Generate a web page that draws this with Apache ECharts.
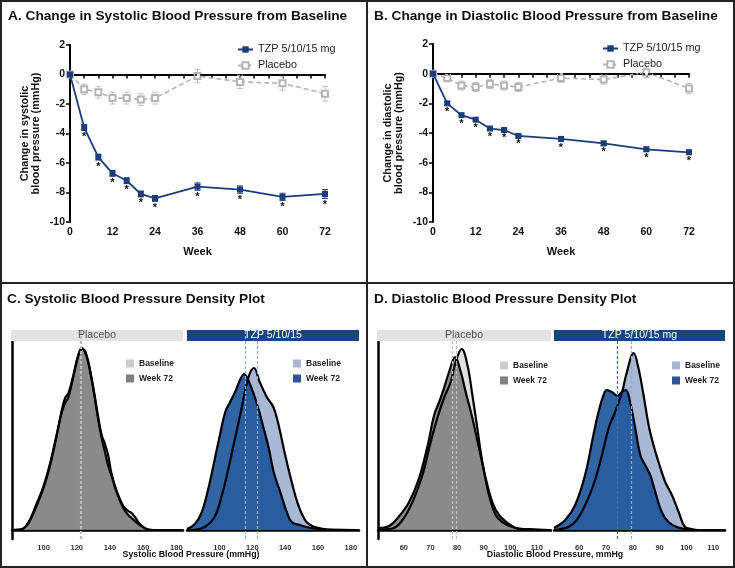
<!DOCTYPE html>
<html><head><meta charset="utf-8">
<script src="https://cdn.jsdelivr.net/npm/echarts@6/dist/echarts.min.js"></script>
<style>html,body{margin:0;padding:0;background:#fff}#c{width:735px;height:568px}</style>
</head><body><div id="c"></div>
<script>
const FONT = '"Liberation Sans", Arial, sans-serif';

// ---------- Line panels (A, B) ----------
const weeks = [0, 4, 8, 12, 16, 20, 24, 36, 48, 60, 72];
const weekTicks = [0, 12, 24, 36, 48, 60, 72];
const sbpTzp = [0, -3.6, -5.6, -6.7, -7.2, -8.1, -8.4, -7.6, -7.8, -8.3, -8.1];
const sbpTzpSe = [0, 0.2, 0.2, 0.2, 0.2, 0.2, 0.2, 0.25, 0.25, 0.25, 0.3];
const sbpPbo = [0, -1.0, -1.2, -1.6, -1.6, -1.7, -1.6, -0.1, -0.5, -0.6, -1.3];
const sbpPboSe = [0, 0.35, 0.4, 0.4, 0.4, 0.4, 0.4, 0.45, 0.45, 0.45, 0.5];
const dbpTzp = [0, -2.0, -2.8, -3.1, -3.7, -3.8, -4.2, -4.4, -4.7, -5.1, -5.3];
const dbpTzpSe = [0, 0.12, 0.12, 0.12, 0.13, 0.13, 0.13, 0.15, 0.15, 0.15, 0.15];
const dbpPbo = [0, -0.3, -0.8, -0.9, -0.7, -0.8, -0.9, -0.3, -0.4, 0.1, -1.0];
const dbpPboSe = [0, 0.25, 0.3, 0.3, 0.3, 0.3, 0.3, 0.3, 0.3, 0.35, 0.35];
const significant = [0, 1, 1, 1, 1, 1, 1, 1, 1, 1, 1];

// ---------- Density panels (C, D): [value, relative density] ----------
const sbpPboBase = [[81,0],[86,0.5],[89,3],[92,10],[96,25],[100,42],[104,65],[108,95],[111,120],[113,132],[115,137],[118,155],[121,175],[123.5,181],[125,179],[127,168],[130,142],[133,112],[135,95],[137,86],[139,74],[141,56],[144,39],[148,24],[151,19],[153,17],[155,13],[158,6],[162,1],[166,0],[184,0]];
const sbpPboW72 = [[81,0],[86,0.5],[89,3],[92,11],[96,27],[100,44],[104,67],[108,96],[111,118],[113,127],[115,133],[118,154],[121,175],[123,182],[125,178],[127,167],[130,141],[133,110],[135,92],[137,78],[139,64],[141,54],[144,38],[148,22],[151,15],[153,12],[155,9],[158,5],[162,1],[166,0],[184,0]];
const sbpTzpBase = [[80.2,0],[85,0.2],[91,3],[97,13],[101.5,35],[105.5,62],[109.5,92],[113.5,122],[117.5,152],[121,162],[124.5,148],[128.8,133],[132.8,123],[136,105],[140,75],[144,48],[148,25],[153,8],[158,3],[162,1.5],[166,0.5],[185,0]];
const sbpTzpW72 = [[80.2,1],[85,6],[89,17],[93,40],[97,70],[100,93],[103.5,118],[106.5,128],[109.5,138],[112.5,150],[115,156],[118.5,146],[122.7,127],[126.7,103],[130,82],[133,58],[137,38],[141,18],[144,8],[149,5],[156,2],[164,0.3],[185,0]];
const dbpPboBase = [[50.3,0.5],[55.75,1.5],[59.5,10],[63.25,28],[67,55],[70.1,88],[72.6,112],[75.1,132],[77.6,148],[79.5,168],[81.75,181],[83.9,165],[85.75,135],[87.6,102],[89.5,68],[92,35],[94.5,15],[97,8],[100.75,3],[105,1],[115.3,0]];
const dbpPboW72 = [[50.3,2],[54.5,4],[58,13],[62,28],[65.75,52],[69,85],[71.4,115],[73.3,128],[75.1,142],[77,158],[79.25,173],[81.4,158],[83.25,138],[85.75,112],[88.25,82],[90.75,52],[93.25,28],[95.75,15],[99,7],[102,2],[105,0.5],[107,1],[110,0.3],[115.3,0]];
const dbpTzpBase = [[50.6,0],[52.3,0.5],[56,3],[59.1,10],[62.2,25],[65.3,45],[68.5,75],[71,102],[73.4,118],[75.9,137],[77.8,158],[80.3,177],[82.1,162],[84,135],[85.9,105],[87.7,85],[89.6,68],[92.1,48],[94.6,35],[97.1,18],[99.5,3],[102,1],[104,0],[114.4,0]];
const dbpTzpW72 = [[50.6,2],[54.8,10],[58.5,25],[62.2,55],[65.3,95],[67.2,118],[69.1,135],[70.3,140],[72.2,138],[74.3,134],[75.9,138],[77.4,140],[79,128],[80.9,102],[82.8,75],[84.6,65],[86.5,55],[88.4,38],[90.8,18],[93.3,8],[96.4,3],[99.5,1],[102,0],[114.4,0]];
// means (dashed lines): [baseline, week 72]
const sbpPboMeans = [123.0, 122.2];
const sbpTzpMeans = [123.1, 115.6];
const dbpPboMeans = [79.8, 78.3];
const dbpTzpMeans = [79.4, 74.3];
const sbpTicks = [100, 120, 140, 160, 180];
const dbpTicks = [60, 70, 80, 90, 100, 110];

const NAVY = '#1d3c7a', PGRAY = '#b5b5b5';

function errRender(color) {
  return function (params, api) {
    const x = api.value(0), y = api.value(1), e = api.value(2), star = api.value(3);
    const t = api.coord([x, y + e]), b = api.coord([x, y - e]);
    const st = { stroke: color, lineWidth: 1 };
    const ch = [];
    if (e > 0) {
      ch.push({ type: 'line', shape: { x1: t[0], y1: t[1], x2: b[0], y2: b[1] }, style: st });
      ch.push({ type: 'line', shape: { x1: t[0] - 3, y1: t[1], x2: t[0] + 3, y2: t[1] }, style: st });
      ch.push({ type: 'line', shape: { x1: b[0] - 3, y1: b[1], x2: b[0] + 3, y2: b[1] }, style: st });
    }
    if (star) ch.push({ type: 'text', style: { text: '*', x: b[0], y: b[1] + 1, align: 'center', verticalAlign: 'top', font: 'bold 11px ' + FONT, fill: '#111' } });
    return { type: 'group', children: ch };
  };
}

const series = [];
const grids = [], xAxes = [], yAxes = [], legends = [];

function linePanel(idx, g, tzp, tzpSe, pbo, pboSe, yname, leg) {
  grids.push(g);
  xAxes.push({ gridIndex: idx, type: 'value', min: 0, max: 72, interval: 4,
    name: 'Week', nameLocation: 'middle', nameGap: 24,
    nameTextStyle: { fontFamily: FONT, fontWeight: 'bold', fontSize: 11, color: '#111' },
    axisLine: { lineStyle: { color: '#000', width: 2 } },
    axisTick: { length: 4, lineStyle: { color: '#000', width: 1.5 } },
    axisLabel: { margin: 5, fontFamily: FONT, fontWeight: 'bold', fontSize: 10.5, color: '#111',
      formatter: v => weekTicks.includes(v) ? String(v) : '' },
    splitLine: { show: false } });
  yAxes.push({ gridIndex: idx, type: 'value', min: -10, max: 2, interval: 2,
    name: yname, nameLocation: 'middle', nameGap: 28,
    nameTextStyle: { fontFamily: FONT, fontWeight: 'bold', fontSize: 10.8, color: '#111', lineHeight: 11.5 },
    axisLine: { show: true, lineStyle: { color: '#000', width: 2 } },
    axisTick: { show: true, length: 4, lineStyle: { color: '#000', width: 1.5 } },
    axisLabel: { margin: 5, fontFamily: FONT, fontWeight: 'bold', fontSize: 10.5, color: '#111' },
    splitLine: { show: false } });
  const nT = 'TZP 5/10/15 mg' + (idx ? ' ' : ''), nP = 'Placebo' + (idx ? ' ' : '');
  series.push({ type: 'custom', xAxisIndex: idx, yAxisIndex: idx, renderItem: errRender('#c0c0c0'),
    data: weeks.map((w, i) => [w, pbo[i], pboSe[i], 0]), z: 3, silent: true });
  series.push({ name: nP, type: 'line', xAxisIndex: idx, yAxisIndex: idx,
    data: weeks.map((w, i) => [w, pbo[i]]), symbol: 'emptyRect', symbolSize: 6, z: 4,
    itemStyle: { color: PGRAY, borderWidth: 1.3 }, lineStyle: { color: PGRAY, width: 1.6, type: [5, 3] },
    markLine: { silent: true, symbol: 'none', label: { show: false },
      lineStyle: { color: '#000', type: [2, 3], width: 1.5 }, data: [{ yAxis: 0 }] } });
  series.push({ type: 'custom', xAxisIndex: idx, yAxisIndex: idx, renderItem: errRender(NAVY),
    data: weeks.map((w, i) => [w, tzp[i], tzpSe[i], significant[i]]), z: 5, silent: true });
  series.push({ name: nT, type: 'line', xAxisIndex: idx, yAxisIndex: idx,
    data: weeks.map((w, i) => [w, tzp[i]]), symbol: 'rect', symbolSize: 6, z: 6,
    itemStyle: { color: NAVY }, lineStyle: { color: NAVY, width: 1.8 } });
  legends.push({ data: [nT, nP], orient: 'vertical', left: leg[0], top: leg[1], itemWidth: 15, itemHeight: 8, itemGap: 5,
    textStyle: { fontFamily: FONT, fontSize: 10.8, color: '#222' }, formatter: n => n.trim(), selectedMode: false });
}

function densityPanel(idx, g, range, ticks, base, w72, means, cBase, cBaseA, cW72, cW72A, meanColors, showY, legPos, key) {
  grids.push(g);
  xAxes.push({ gridIndex: idx, type: 'value', min: range[0], max: range[1],
    axisLine: { lineStyle: { color: '#000', width: 2.5 } },
    axisTick: { show: false },
    axisLabel: { customValues: ticks, margin: 5, fontFamily: FONT, fontWeight: 'bold', fontSize: 7.5, color: '#333' },
    splitLine: { show: false } });
  yAxes.push({ gridIndex: idx, type: 'value', min: -9, max: 200,
    axisLine: { show: showY, lineStyle: { color: '#000', width: 2.5 } },
    axisTick: { show: false }, axisLabel: { show: false }, splitLine: { show: false } });
  const nB = key + '|Baseline', nW = key + '|Week 72';
  series.push({ name: nB, type: 'line', xAxisIndex: idx, yAxisIndex: idx, data: base, smooth: 0.4,
    symbol: 'none', itemStyle: { color: cBase }, lineStyle: { color: '#000', width: 2.2 },
    areaStyle: { color: cBaseA[0], opacity: cBaseA[1] }, silent: true });
  series.push({ name: nW, type: 'line', xAxisIndex: idx, yAxisIndex: idx, data: w72, smooth: 0.4,
    symbol: 'none', itemStyle: { color: cW72 }, lineStyle: { color: '#000', width: 2.2 },
    areaStyle: { color: cW72A[0], opacity: cW72A[1] }, silent: true,
    markLine: { silent: true, symbol: 'none', label: { show: false },
      data: [
        { xAxis: means[0], lineStyle: { color: meanColors[0], type: [3, 2], width: 1.2 } },
        { xAxis: means[1], lineStyle: { color: meanColors[1], type: [3, 2], width: 1.2 } }
      ] } });
  legends.push({ data: [nB, nW], orient: 'vertical', left: legPos[0], top: legPos[1], icon: 'rect',
    itemWidth: 8, itemHeight: 8, itemGap: 6, selectedMode: false,
    itemStyle: { borderWidth: 0 },
    textStyle: { fontFamily: FONT, fontWeight: 'bold', fontSize: 8.5, color: '#222' },
    formatter: n => n.split('|')[1] });
}

linePanel(0, { left: 70, top: 45, width: 255, height: 177 }, sbpTzp, sbpTzpSe, sbpPbo, sbpPboSe,
  'Change in systolic\nblood pressure (mmHg)', [232, 39]);
linePanel(1, { left: 433, top: 44, width: 256, height: 178 }, dbpTzp, dbpTzpSe, dbpPbo, dbpPboSe,
  'Change in diastolic\nblood pressure (mmHg)', [597, 38]);

densityPanel(2, { left: 12, top: 330, width: 171, height: 209 }, [81, 184], sbpTicks, sbpPboBase, sbpPboW72, sbpPboMeans,
  '#cccccc', ['#d0d0d0', 0.65], '#7f7f7f', ['#7a7a7a', 0.85], ['#bdbdbd', '#bdbdbd'], true, [121, 354], 'c1');
densityPanel(3, { left: 187, top: 330, width: 172, height: 209 }, [80.2, 185], sbpTicks, sbpTzpBase, sbpTzpW72, sbpTzpMeans,
  '#a8b7d5', ['#a9b8d5', 1], '#2c5591', ['#1a5399', 0.9], ['#9aa9c2', '#8fb1d9'], false, [288, 354], 'c2');
densityPanel(4, { left: 378, top: 330, width: 173, height: 209 }, [50.3, 115.3], dbpTicks, dbpPboBase, dbpPboW72, dbpPboMeans,
  '#cccccc', ['#d0d0d0', 0.65], '#7f7f7f', ['#7a7a7a', 0.85], ['#bdbdbd', '#bdbdbd'], true, [495, 356], 'd1');
densityPanel(5, { left: 554, top: 330, width: 171, height: 209 }, [50.6, 114.4], dbpTicks, dbpTzpBase, dbpTzpW72, dbpTzpMeans,
  '#a8b7d5', ['#a9b8d5', 1], '#2c5591', ['#1a5399', 0.9], ['#9aa9c2', '#3a6db0'], false, [667, 356], 'd2');

const titleStyle = { fontFamily: FONT, fontWeight: 'bold', fontSize: 13.7, color: '#111' };
const titles = [
  { text: 'A. Change in Systolic Blood Pressure from Baseline', left: 8, top: 9 },
  { text: 'B. Change in Diastolic Blood Pressure from Baseline', left: 374, top: 9 },
  { text: 'C. Systolic Blood Pressure Density Plot', left: 7, top: 292 },
  { text: 'D. Diastolic Blood Pressure Density Plot', left: 374, top: 292 }
].map(t => Object.assign(t, { padding: 0, textStyle: titleStyle }));

function strip(x, w, label, fill, color) {
  return [
    { type: 'rect', z: 1, shape: { x: x, y: 328, width: w, height: 13 }, style: { fill: fill } },
    { type: 'rect', z: 1, shape: { x: x - 2, y: 326, width: w + 4, height: 4 }, style: { fill: '#fff' } },
    { type: 'text', z: 1, style: { text: label, x: x + w / 2, y: 335.5, align: 'center', verticalAlign: 'middle',
      font: '10.5px ' + FONT, fill: color } }
  ];
}

const graphics = [
  { type: 'rect', z: 10, shape: { x: 1, y: 1, width: 733, height: 566 }, style: { fill: 'none', stroke: '#222', lineWidth: 2 } },
  { type: 'line', z: 10, shape: { x1: 367, y1: 0, x2: 367, y2: 568 }, style: { stroke: '#222', lineWidth: 2 } },
  { type: 'line', z: 10, shape: { x1: 0, y1: 283, x2: 735, y2: 283 }, style: { stroke: '#222', lineWidth: 2 } },
  ...strip(11, 172, 'Placebo', '#e3e3e3', '#4d4d4d'),
  ...strip(187, 172, 'TZP 5/10/15', '#1a4480', '#ffffff'),
  ...strip(377, 174, 'Placebo', '#e3e3e3', '#4d4d4d'),
  ...strip(554, 171, 'TZP 5/10/15 mg', '#1a4480', '#ffffff'),
  { type: 'text', style: { text: 'Systolic Blood Pressure (mmHg)', x: 191, y: 555, align: 'center', verticalAlign: 'middle',
    font: 'bold 8.8px ' + FONT, fill: '#111' } },
  { type: 'text', style: { text: 'Diastolic Blood Pressure, mmHg', x: 555, y: 555, align: 'center', verticalAlign: 'middle',
    font: 'bold 8.8px ' + FONT, fill: '#111' } }
];

const chart = echarts.init(document.getElementById('c'), null, { renderer: 'canvas' });
chart.setOption({
  backgroundColor: '#fff',
  animation: false,
  title: titles,
  grid: grids,
  xAxis: xAxes,
  yAxis: yAxes,
  legend: legends,
  series: series,
  graphic: graphics
});
</script></body></html>
